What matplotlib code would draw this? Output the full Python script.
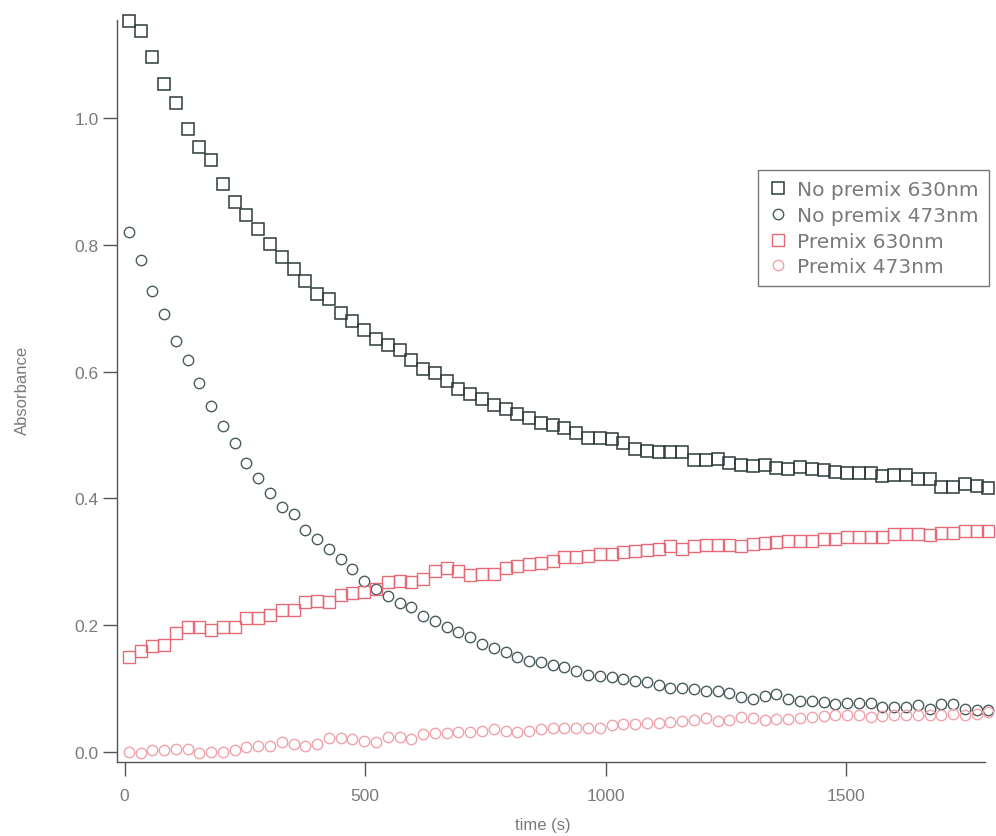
import matplotlib
matplotlib.use("Agg")
import matplotlib.pyplot as plt
import numpy as np

# sampling: 74 readings, ~24.5 s apart
time_s = 8.7 + 24.47 * np.arange(74)

no_premix_630 = [
    1.152, 1.136, 1.096, 1.053, 1.024, 0.982, 0.954, 0.933, 0.895, 0.867,
    0.846, 0.824, 0.801, 0.780, 0.762, 0.742, 0.722, 0.714, 0.693, 0.679,
    0.666, 0.651, 0.642, 0.634, 0.619, 0.604, 0.598, 0.585, 0.573, 0.564,
    0.556, 0.548, 0.541, 0.533, 0.527, 0.519, 0.516, 0.511, 0.503, 0.496,
    0.496, 0.493, 0.487, 0.478, 0.475, 0.474, 0.474, 0.474, 0.461, 0.460,
    0.462, 0.456, 0.453, 0.451, 0.453, 0.448, 0.446, 0.449, 0.446, 0.445,
    0.442, 0.440, 0.440, 0.440, 0.435, 0.437, 0.437, 0.431, 0.431, 0.418,
    0.418, 0.423, 0.419, 0.417]

no_premix_473 = [
    0.820, 0.776, 0.727, 0.690, 0.648, 0.619, 0.582, 0.545, 0.514, 0.487,
    0.456, 0.433, 0.409, 0.386, 0.375, 0.350, 0.336, 0.320, 0.305, 0.289,
    0.270, 0.257, 0.247, 0.236, 0.229, 0.215, 0.207, 0.197, 0.189, 0.181,
    0.171, 0.165, 0.158, 0.150, 0.144, 0.142, 0.137, 0.135, 0.128, 0.122,
    0.121, 0.118, 0.116, 0.113, 0.110, 0.106, 0.102, 0.102, 0.099, 0.096,
    0.096, 0.093, 0.087, 0.084, 0.088, 0.092, 0.084, 0.081, 0.081, 0.079,
    0.076, 0.078, 0.078, 0.078, 0.072, 0.072, 0.071, 0.075, 0.068, 0.076,
    0.076, 0.068, 0.067, 0.066]

premix_630 = [
    0.150, 0.160, 0.167, 0.169, 0.188, 0.197, 0.197, 0.192, 0.197, 0.197,
    0.212, 0.212, 0.216, 0.225, 0.225, 0.237, 0.239, 0.237, 0.248, 0.251,
    0.253, 0.258, 0.269, 0.270, 0.268, 0.273, 0.285, 0.290, 0.285, 0.279,
    0.281, 0.281, 0.290, 0.293, 0.297, 0.299, 0.302, 0.307, 0.307, 0.309,
    0.313, 0.313, 0.316, 0.318, 0.319, 0.321, 0.325, 0.321, 0.325, 0.327,
    0.327, 0.327, 0.325, 0.328, 0.330, 0.331, 0.333, 0.333, 0.333, 0.336,
    0.336, 0.339, 0.339, 0.339, 0.339, 0.344, 0.344, 0.344, 0.342, 0.345,
    0.345, 0.348, 0.348, 0.348]

premix_473 = [
    0.000, -0.001, 0.003, 0.003, 0.005, 0.005, -0.001, 0.001, 0.001, 0.004,
    0.008, 0.010, 0.010, 0.016, 0.013, 0.010, 0.013, 0.022, 0.022, 0.021,
    0.018, 0.016, 0.024, 0.024, 0.021, 0.029, 0.030, 0.030, 0.032, 0.032,
    0.034, 0.036, 0.034, 0.032, 0.034, 0.037, 0.038, 0.038, 0.039, 0.039,
    0.038, 0.043, 0.045, 0.045, 0.046, 0.046, 0.048, 0.050, 0.051, 0.054,
    0.050, 0.051, 0.055, 0.054, 0.051, 0.052, 0.052, 0.054, 0.055, 0.057,
    0.058, 0.058, 0.058, 0.055, 0.057, 0.058, 0.058, 0.058, 0.059, 0.059,
    0.060, 0.059, 0.060, 0.063]

labels = ["No premix 630nm", "No premix 473nm", "Premix 630nm", "Premix 473nm"]

plt.rcParams['font.family'] = ['Liberation Sans', 'DejaVu Sans']
txt = '#7a7a7a'
axc = '#555555'

fig = plt.figure(figsize=(9.96, 8.37), dpi=100)
ax = fig.add_axes([0.1175, 0.0888, 0.8715, 0.8865])

ax.plot(time_s, no_premix_630, 's', ms=8.3, mfc='none', mec='#2e3a3a', mew=1.1,
        label=labels[0], clip_on=False)
ax.plot(time_s, no_premix_473, 'o', ms=7.5, mfc='none', mec='#4a5c5c', mew=1.0,
        label=labels[1], clip_on=False)
ax.plot(time_s, premix_630, 's', ms=8.3, mfc='none', mec='#e46a76', mew=1.0,
        label=labels[2], clip_on=False)
ax.plot(time_s, premix_473, 'o', ms=7.5, mfc='none', mec='#f0a2aa', mew=1.0,
        label=labels[3], clip_on=False)

ax.set_xlim(-15.6, 1788)
ax.set_ylim(-0.0148, 1.1546)
ax.set_xticks([0, 500, 1000, 1500])
ax.set_yticks([0.0, 0.2, 0.4, 0.6, 0.8, 1.0])
ax.set_yticklabels(["0.0", "0.2", "0.4", "0.6", "0.8", "1.0"])

for s in ['top', 'right']:
    ax.spines[s].set_visible(False)
for s in ['left', 'bottom']:
    ax.spines[s].set_color(axc)
    ax.spines[s].set_linewidth(1.0)
ax.tick_params(direction='out', length=10, width=1.0, color=axc,
               labelcolor=txt, labelsize=12.5)
ax.tick_params(axis='x', pad=9)
ax.tick_params(axis='y', pad=3)

ax.set_xlabel("time (s)", color=txt, fontsize=12)
ax.set_ylabel("Absorbance", color=txt, fontsize=12)
ax.xaxis.set_label_coords(0.491, -0.075)
ax.yaxis.set_label_coords(-0.100, 0.502)

leg = ax.legend(loc='upper right', bbox_to_anchor=(1.004, 0.797),
                prop={'family': 'DejaVu Sans', 'size': 14.5},
                frameon=True, fancybox=False, borderpad=0.5, labelspacing=0.33,
                handletextpad=0.45, handlelength=1.0, borderaxespad=0)
leg.get_frame().set_edgecolor(axc)
leg.get_frame().set_linewidth(1.0)
for t in leg.get_texts():
    t.set_color(txt)

fig.savefig("out.png", dpi=100)
